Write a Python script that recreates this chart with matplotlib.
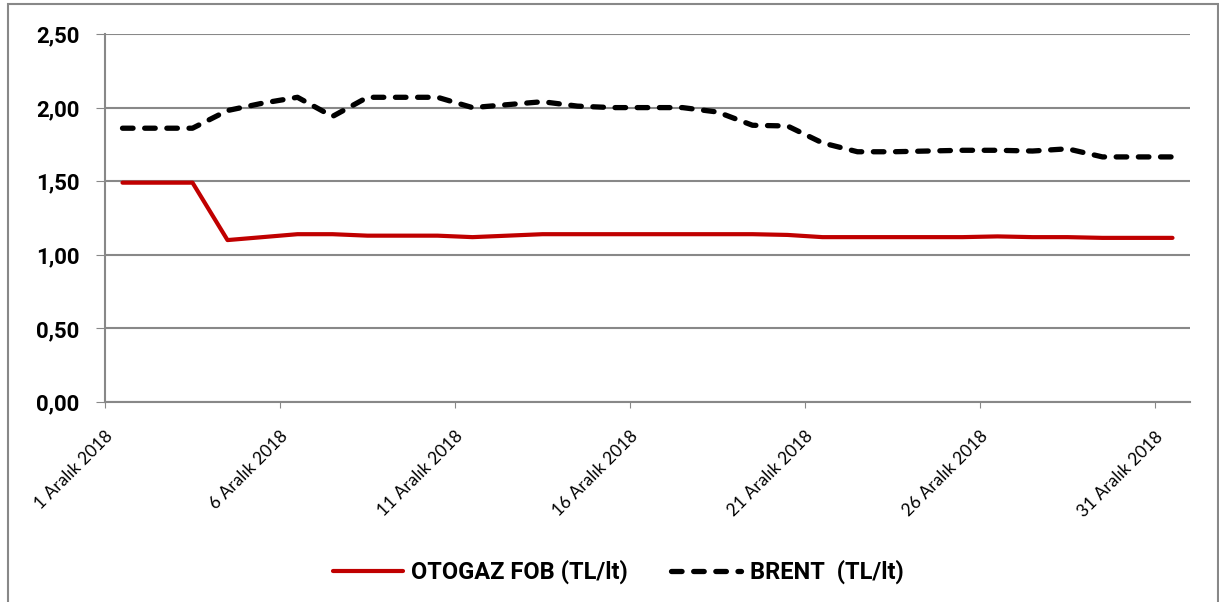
#!/usr/bin/env python3
# coding: UTF-8

import matplotlib.pyplot as plt
from matplotlib.patches import Rectangle

# Daily values, December 2018
days = list(range(1, 32))
otogaz = [1.49, 1.49, 1.49, 1.10, 1.12, 1.14, 1.14, 1.13, 1.13, 1.13,
          1.12, 1.13, 1.14, 1.14, 1.14, 1.14, 1.14, 1.14, 1.14, 1.135,
          1.12, 1.12, 1.12, 1.12, 1.12, 1.125, 1.12, 1.12, 1.115, 1.115, 1.115]
brent = [1.86, 1.86, 1.86, 1.98, 2.03, 2.07, 1.94, 2.07, 2.07, 2.07,
         2.00, 2.02, 2.04, 2.01, 2.00, 2.00, 2.00, 1.97, 1.88, 1.875,
         1.76, 1.70, 1.70, 1.705, 1.71, 1.71, 1.705, 1.72, 1.665, 1.665, 1.665]
tick_days = [1, 6, 11, 16, 21, 26, 31]
tick_labels = [f"{d} Aralık 2018" for d in tick_days]
y_ticks = [0, 0.5, 1.0, 1.5, 2.0, 2.5]

plt.rcParams['font.family'] = ['Lato', 'DejaVu Sans']
bold_font = ['Roboto', 'DejaVu Sans']

fig = plt.figure(figsize=(12.19, 6.02), dpi=100)
ax = fig.add_axes([105 / 1219, 1 - 402 / 602, 1085 / 1219, 368 / 602])

ax.plot(days, otogaz, color='#c00000', lw=3.0, solid_capstyle='round',
        label='OTOGAZ FOB (TL/lt)', zorder=3)
ax.plot(days, brent, color='black', lw=3.8, dashes=(2.0, 2.2),
        dash_capstyle='round', label='BRENT  (TL/lt)', zorder=3)

ax.set_xlim(0.5, 31.5)
ax.set_ylim(0, 2.5)
ax.set_yticks(y_ticks)
ax.set_yticklabels([f"{v:.2f}".replace('.', ',') for v in y_ticks],
                   fontsize=16, fontweight='bold', family=bold_font)
ax.set_xticks([d - 0.5 for d in tick_days])
ax.set_xticklabels(tick_labels, rotation=45, ha='right', va='top',
                   rotation_mode='anchor', fontsize=12.5)
ax.tick_params(axis='x', length=4, color='#888888', pad=15)
ax.tick_params(axis='y', length=6.5, color='#888888', pad=12)

ax.grid(axis='y', color='#888888', lw=1.5)
ax.set_axisbelow(True)
for s in ['top', 'right']:
    ax.spines[s].set_visible(False)
for s in ['left', 'bottom']:
    ax.spines[s].set_color('#888888')
    ax.spines[s].set_linewidth(1.5)

leg = fig.legend(loc='center', bbox_to_anchor=(0.507, 1 - 572 / 602), ncol=2,
                 frameon=False, handlelength=2.96, handletextpad=0.35,
                 columnspacing=1.86,
                 prop={'size': 17, 'weight': 'bold', 'family': bold_font})

# outer chart frame
fig.patches.append(Rectangle((8 / 1219, -0.05), 1210 / 1219, 1 - 4 / 602 + 0.05,
                             transform=fig.transFigure, fill=False,
                             edgecolor='#888888', lw=1.5))

plt.savefig('out.png', dpi=100)
